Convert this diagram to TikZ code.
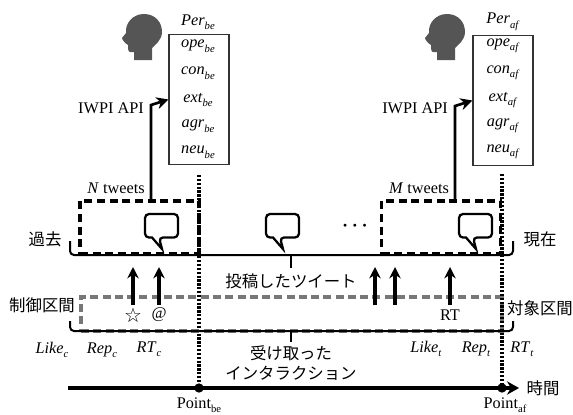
\documentclass[tikz,border=0pt]{standalone}
\usepackage{fontspec}
\setmainfont{Liberation Serif}
\newfontfamily\jpfont{Noto Sans CJK JP}
\newfontfamily\symfont{DejaVu Sans}
\usetikzlibrary{arrows.meta, positioning}
\definecolor{Head_Gray}{HTML}{555555}
\definecolor{Span_Gray}{HTML}{777777}
\newcommand{\sublab}[2]{\textit{#1}\raisebox{-0.6ex}{\fontsize{8}{8}\selectfont\textit{#2}}}
\newcommand{\ptlab}[1]{Point\raisebox{-0.6ex}{\fontsize{8}{8}\selectfont #1}}

\begin{document}
\begin{tikzpicture}[
    >=Stealth,
    x=0.75pt,
    y=-0.75pt,
    label/.style={font=\fontsize{12.2}{14}\selectfont, inner sep=0pt},
    jp/.style={font=\fontsize{12.3}{14}\selectfont\jpfont, inner sep=0pt},
    perbox/.style={draw=black!80, line width=0.8pt, fill=white, minimum width=45pt, minimum height=97pt, inner sep=0pt},
    tweetbox/.style={draw=black, line width=2.4pt, dash pattern=on 6pt off 3.5pt, minimum width=89.25pt, minimum height=39.75pt, inner sep=0pt},
    spanbox/.style={draw=Span_Gray, line width=2.3pt, dash pattern=on 6pt off 3.2pt, minimum width=315.75pt, minimum height=25.5pt, inner sep=0pt},
    rail/.style={draw=black, line width=1.5pt, rounded corners=3pt},
    tick/.style={draw=black, line width=1.5pt},
    api/.style={draw=black, line width=2pt, -{Stealth[length=9pt, width=9pt]}},
    upto/.style={draw=black, line width=2.4pt, -{Stealth[length=8.5pt, width=8.5pt]}},
    split/.style={draw=black, line width=2.3pt, dash pattern=on 1.7pt off 1.2pt},
    timeline/.style={draw=black, line width=2.6pt, -{Stealth[length=9pt, width=10pt]}},
    dot/.style={circle, fill=black, minimum size=7pt, inner sep=0pt},
    head/.pic={
        \fill[Head_Gray] (-9,23) -- (-9,15) -- (-13,15) .. controls (-15,15) and (-15,11) .. (-15,8)
            .. controls (-17,7) and (-21,3) .. (-21,1) -- (-17,-4)
            .. controls (-18,-14) and (-10,-23) .. (1,-23)
            .. controls (12,-23) and (19,-15) .. (19,-5)
            .. controls (19,3) and (12,8) .. (9,11) -- (9,23) -- cycle;
    },
    bubble/.pic={
        \draw[line width=1.7pt, fill=white, rounded corners=3pt] (0,0) -- (33,0) -- (33,23.5) -- (14,23.5)
            [sharp corners] -- (17,35) -- (7,23.5) [rounded corners=3pt] -- (0,23.5) -- cycle;
    }
]
\useasboundingbox (0,0) rectangle (573,414);

\node[perbox] (bebox) at (199,99.5) {};
\node[perbox] (afbox) at (503,100.5) {};
\pic at (143,37) {head};
\pic at (446,37) {head};

% personality labels
\node[label] (perbe) at (198,22) {\sublab{Per}{be}};
\node[label] (opebe) at (198,46) {\sublab{ope}{be}};
\node[label] (conbe) at (198,73) {\sublab{con}{be}};
\node[label] (extbe) at (198,100) {\sublab{ext}{be}};
\node[label] (agrbe) at (198,126) {\sublab{agr}{be}};
\node[label] (neube) at (198,152) {\sublab{neu}{be}};
\node[label] (peraf) at (503,22) {\sublab{Per}{af}};
\node[label] (opeaf) at (503,46) {\sublab{ope}{af}};
\node[label] (conaf) at (503,73) {\sublab{con}{af}};
\node[label] (extaf) at (503,100) {\sublab{ext}{af}};
\node[label] (agraf) at (503,126) {\sublab{agr}{af}};
\node[label] (neuaf) at (503,152) {\sublab{neu}{af}};

\node[label] (apibe) at (111,108) {IWPI API};
\node[label] (apiaf) at (415,108) {IWPI API};
\node[label] (ntw) at (116,188) {\textit{N} tweets};
\node[label] (mtw) at (419,188) {\textit{M} tweets};

% tweet windows
\node[tweetbox] (nbox) at (139.5,227.5) {};
\node[tweetbox] (mbox) at (441,227.5) {};
\pic at (145,214) {bubble};
\pic at (266,214) {bubble};
\pic at (459,214) {bubble};
\node[font=\fontsize{14}{14}\selectfont\boldmath, inner sep=0pt] (more) at (355,226) {$\cdots$};

% posted tweets rail
\coordinate (ra) at (70,241);
\coordinate (rb) at (513,241);
\coordinate (rmid) at (291,255);
\coordinate (rtick) at (291,268);
\draw[rail] (ra) -- (70,255) -- (513,255) -- (rb);
\draw[tick] (rmid) -- (rtick);

% interaction span
\node[spanbox] (cbox) at (291.5,314) {};
\coordinate (sa) at (70,321);
\coordinate (sb) at (513,321);
\coordinate (smid) at (291,331);
\coordinate (stick) at (291,342);
\draw[rail] (sa) -- (70,331) -- (513,331) -- (sb);
\draw[tick] (smid) -- (stick);

% time axis
\coordinate (tstart) at (68,388);
\coordinate (tend) at (519,388);
\draw[timeline] (tstart) -- (tend);
\node[dot] (ptbe) at (199,388) {};
\node[dot] (ptaf) at (502,388) {};
\coordinate (dbe) at (199,175);
\coordinate (daf) at (502,174);
\draw[split] (dbe) -- (ptbe);
\draw[split] (daf) -- (ptaf);

% api arrows
\coordinate (nup) at (151,201);
\coordinate (nturn) at (151,105);
\coordinate (mup) at (455,201);
\coordinate (mturn) at (455,106);
\draw[api] (nup) -- (nturn) -- (bebox.west);
\draw[api] (mup) -- (mturn) -- (afbox.west);

% interaction arrows
\node[font=\fontsize{15}{15}\selectfont\symfont, inner sep=0pt] (star) at (133,315) {☆};
\node[label] (at) at (159,315) {@};
\node[label] (rt) at (450,315) {RT};
\coordinate (stfoot) at (133,305);
\coordinate (stup) at (133,267);
\coordinate (atfoot) at (159,305);
\coordinate (atup) at (159,267);
\coordinate (rtfoot) at (450,305);
\coordinate (rtup) at (450,267);
\coordinate (xa) at (375,305);
\coordinate (xaup) at (375,267);
\coordinate (xb) at (395,305);
\coordinate (xbup) at (395,267);
\draw[upto] (stfoot) -- (stup);
\draw[upto] (atfoot) -- (atup);
\draw[upto] (rtfoot) -- (rtup);
\draw[upto] (xa) -- (xaup);
\draw[upto] (xb) -- (xbup);

% row labels
\node[jp] (past) at (45,239) {過去};
\node[jp] (now) at (540,239) {現在};
\node[jp] (ctrl) at (42,305) {制御区間};
\node[jp] (target) at (540,308) {対象区間};
\node[jp] (posted) at (291,281) {投稿したツイート};
\node[jp] (recv) at (291,353) {受け取った};
\node[jp] (inter) at (291,373) {インタラクション};
\node[jp] (time) at (543,388) {時間};

\node[label] (likec) at (52,350) {\sublab{Like}{c}};
\node[label] (repc) at (102,350) {\sublab{Rep}{c}};
\node[label] (rtc) at (149,349) {\sublab{RT}{c}};
\node[label] (liket) at (426,349) {\sublab{Like}{t}};
\node[label] (rept) at (476,349) {\sublab{Rep}{t}};
\node[label] (rtt) at (522,349) {\sublab{RT}{t}};
\node[label] (labbe) at (199,405) {\ptlab{be}};
\node[label] (labaf) at (505,405) {\ptlab{af}};

\end{tikzpicture}
\end{document}
